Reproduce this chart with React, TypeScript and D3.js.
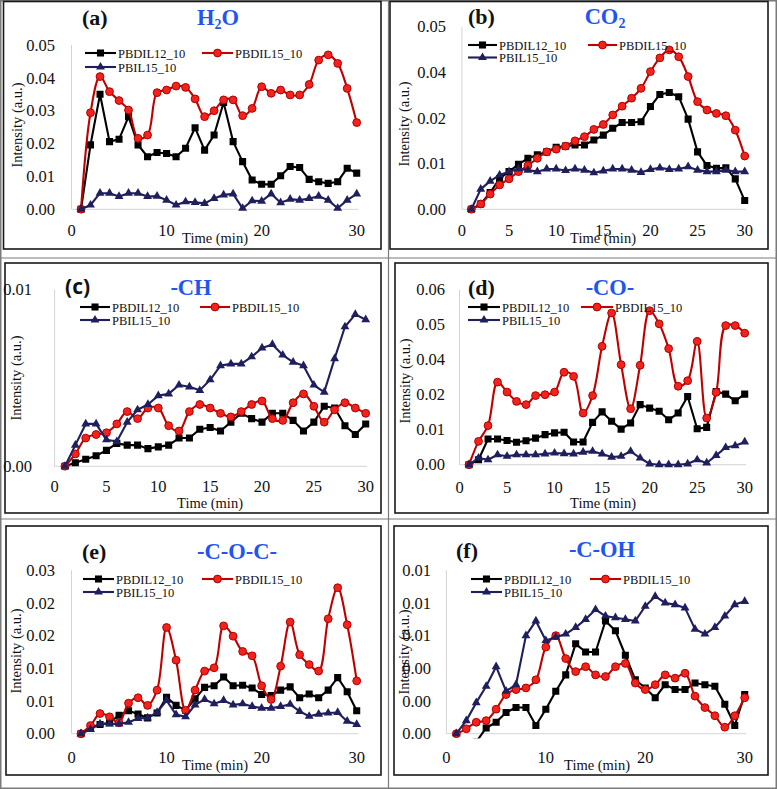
import React from 'react';
import * as d3 from 'd3';

// Time axis, one reading per minute
const minutes = [1, 2, 3, 4, 5, 6, 7, 8, 9, 10, 11, 12, 13, 14, 15, 16, 17, 18, 19, 20, 21, 22, 23, 24, 25, 26, 27, 28, 29, 30];
const seriesNames = ['PBDIL12_10', 'PBDIL15_10', 'PBIL15_10'];

// (a) H2O
const h2oPBDIL12 = [0, 0.0196, 0.035, 0.0206, 0.0213, 0.0282, 0.0196, 0.016, 0.0173, 0.017, 0.016, 0.0186, 0.0248, 0.018, 0.0226, 0.0325, 0.0206, 0.0145, 0.0089, 0.0076, 0.0076, 0.0102, 0.013, 0.0127, 0.0091, 0.0084, 0.0079, 0.0084, 0.0125, 0.011];
const h2oPBDIL15 = [0, 0.0294, 0.0404, 0.0358, 0.0331, 0.0302, 0.0216, 0.0226, 0.0355, 0.0363, 0.0375, 0.0371, 0.0336, 0.0282, 0.03, 0.0333, 0.0333, 0.0285, 0.0307, 0.0373, 0.0353, 0.0363, 0.0348, 0.0348, 0.038, 0.0454, 0.047, 0.0444, 0.0368, 0.0264];
const h2oPBIL15 = [0, 0.0013, 0.0049, 0.0049, 0.0039, 0.0049, 0.0049, 0.0039, 0.004, 0.0028, 0.0013, 0.0023, 0.0021, 0.0018, 0.0033, 0.0044, 0.0047, 0.0003, 0.0026, 0.0025, 0.0047, 0.002, 0.0031, 0.0028, 0.0033, 0.004, 0.0028, 0.0003, 0.0028, 0.0047];

// (b) CO2
const co2PBDIL12 = [0, 0.0014, 0.0044, 0.0081, 0.0099, 0.0118, 0.0134, 0.0143, 0.0151, 0.0163, 0.0166, 0.0169, 0.0169, 0.0182, 0.0195, 0.0213, 0.0228, 0.0228, 0.023, 0.027, 0.0302, 0.0307, 0.0296, 0.0237, 0.0151, 0.0115, 0.0108, 0.0109, 0.008, 0.0023];
const co2PBDIL15 = [0, 0.0014, 0.004, 0.0064, 0.008, 0.0099, 0.0115, 0.0134, 0.0151, 0.0158, 0.0166, 0.018, 0.0191, 0.021, 0.0223, 0.0248, 0.0271, 0.0292, 0.0318, 0.0362, 0.0398, 0.0419, 0.0401, 0.0349, 0.0283, 0.0261, 0.0252, 0.0246, 0.0208, 0.014];
const co2PBIL15 = [0, 0.0053, 0.0074, 0.009, 0.0099, 0.0106, 0.0103, 0.0099, 0.0106, 0.0106, 0.0102, 0.0106, 0.0103, 0.0096, 0.0101, 0.0106, 0.0106, 0.0103, 0.0097, 0.0105, 0.0109, 0.0105, 0.0106, 0.0112, 0.0103, 0.0099, 0.0099, 0.0103, 0.0099, 0.0099];

// (c) -CH
const chPBDIL12 = [0, 0.0002, 0.0004, 0.0006, 0.0009, 0.0013, 0.0012, 0.0012, 0.001, 0.0011, 0.0012, 0.0016, 0.0016, 0.0021, 0.0022, 0.002, 0.0025, 0.003, 0.0027, 0.0025, 0.003, 0.003, 0.0026, 0.002, 0.0025, 0.0034, 0.0033, 0.0023, 0.0018, 0.0024];
const chPBDIL15 = [0, 0.0007, 0.0016, 0.0018, 0.0019, 0.0024, 0.0031, 0.0027, 0.0033, 0.0033, 0.0023, 0.002, 0.0031, 0.0035, 0.0033, 0.003, 0.0028, 0.0031, 0.0035, 0.0037, 0.0027, 0.0026, 0.0036, 0.0041, 0.0034, 0.0025, 0.0032, 0.0036, 0.0033, 0.003];
const chPBIL15 = [0, 0.0012, 0.0024, 0.0024, 0.0015, 0.0014, 0.0025, 0.0032, 0.0035, 0.004, 0.0041, 0.0046, 0.0045, 0.0043, 0.0049, 0.0057, 0.0058, 0.0058, 0.0062, 0.0067, 0.0069, 0.0063, 0.0059, 0.0057, 0.0046, 0.0042, 0.0061, 0.0079, 0.0086, 0.0083];

// (d) -CO-
const coPBDIL12 = [0, 0.0017, 0.0088, 0.0088, 0.0083, 0.0077, 0.0082, 0.0091, 0.0103, 0.0109, 0.0111, 0.0078, 0.0078, 0.0145, 0.0181, 0.0149, 0.0122, 0.0143, 0.0206, 0.0194, 0.0183, 0.0154, 0.0177, 0.0234, 0.0123, 0.0128, 0.0251, 0.0242, 0.0219, 0.0242];
const coPBDIL15 = [0, 0.008, 0.0134, 0.0283, 0.0249, 0.0217, 0.0206, 0.0237, 0.024, 0.0249, 0.0317, 0.0303, 0.0177, 0.0237, 0.0406, 0.052, 0.0343, 0.0192, 0.0341, 0.0528, 0.0483, 0.0398, 0.0269, 0.0288, 0.0423, 0.016, 0.0248, 0.0477, 0.0477, 0.0451];
const coPBIL15 = [0, 0.0023, 0.0017, 0.0034, 0.0029, 0.0034, 0.0034, 0.0034, 0.0037, 0.004, 0.0038, 0.0037, 0.0043, 0.0046, 0.0037, 0.0026, 0.0029, 0.0046, 0.0023, 0.0003, 0, 0, 0, 0.0003, 0.0017, 0.0006, 0.0032, 0.0059, 0.0065, 0.0078];

// (e) -C-O-C-
const cocPBDIL12 = [0, 0.0012, 0.0017, 0.002, 0.0034, 0.0042, 0.0036, 0.0029, 0.0038, 0.0067, 0.0052, 0.0043, 0.0064, 0.0085, 0.0088, 0.0104, 0.0088, 0.0089, 0.0084, 0.0072, 0.007, 0.008, 0.0086, 0.0066, 0.0073, 0.0066, 0.008, 0.0103, 0.0077, 0.0042];
const cocPBDIL15 = [0, 0.0015, 0.0037, 0.0031, 0.002, 0.0056, 0.0066, 0.0052, 0.008, 0.0195, 0.0135, 0.0043, 0.008, 0.0115, 0.0121, 0.0198, 0.0179, 0.0151, 0.0143, 0.0088, 0.0063, 0.0124, 0.0205, 0.0145, 0.0127, 0.0115, 0.0211, 0.0268, 0.02, 0.0097];
const cocPBIL15 = [0, 0.0008, 0.0018, 0.0018, 0.0018, 0.0021, 0.0028, 0.0029, 0.0039, 0.0061, 0.0035, 0.0031, 0.0053, 0.0063, 0.0055, 0.0061, 0.0053, 0.0055, 0.005, 0.0047, 0.0047, 0.005, 0.0054, 0.0041, 0.0032, 0.0036, 0.0038, 0.0039, 0.0023, 0.0017];

// (f) -C-OH
const cohPBDIL12 = [-0.001, -0.0008, -0.0005, 0.00035, 0.0007, 0.0013, 0.0016, 0.0016, 0.0005, 0.0015, 0.0026, 0.0036, 0.0055, 0.005, 0.005, 0.0069, 0.0063, 0.0048, 0.0033, 0.0028, 0.0022, 0.003, 0.0027, 0.0027, 0.0031, 0.003, 0.0029, 0.0018, 0.0005, 0.0024];
const cohPBDIL15 = [0, 0.0003, 0.0007, 0.0008, 0.0015, 0.0024, 0.0027, 0.0028, 0.0033, 0.0053, 0.006, 0.0046, 0.0038, 0.0041, 0.0036, 0.0035, 0.0041, 0.0043, 0.0031, 0.0027, 0.003, 0.0036, 0.0034, 0.0037, 0.0023, 0.0016, 0.0011, 0.0004, 0.0011, 0.0022];
const cohPBIL15 = [0, 0.0008, 0.0019, 0.0029, 0.0041, 0.0026, 0.003, 0.006, 0.0069, 0.0057, 0.0059, 0.0061, 0.0065, 0.007, 0.0076, 0.0072, 0.0071, 0.007, 0.0069, 0.0078, 0.0084, 0.008, 0.0079, 0.0077, 0.0064, 0.0061, 0.0065, 0.0072, 0.0079, 0.0081];

// value-axis ticks (labels are these values at two decimals)
const ticksA = [0, 0.01, 0.02, 0.03, 0.04, 0.05];
const ticksB = [0, 0.012, 0.024, 0.036, 0.048];
const ticksC = [0, 0.01];
const ticksD = [0, 0.012, 0.024, 0.036, 0.048, 0.06];
const ticksE = [0, 0.006, 0.012, 0.018, 0.024, 0.03];
const ticksF = [0, 0.002, 0.004, 0.006, 0.008, 0.01];
const timeTicks10 = [0, 10, 20, 30];
const timeTicks5 = [0, 5, 10, 15, 20, 25, 30];

const W = 777;
const H = 789;
const serif = '"Liberation Serif", "Times New Roman", serif';
const titleBlue = '#1f55f2';
const fmt = d3.format('.2f');

type Chem = { text: string; sub?: string; rest?: string };

interface PanelCfg {
  id: string;
  chem: Chem;
  sansLetter?: boolean;
  series: number[][];
  yTicks: number[];
  xTicks: number[];
  left: number; right: number; bottom: number; top: number;
  box: [number, number, number, number];
  letterX: number; letterY: number;
  chemX: number; chemY: number;
  yLabelX: number; xLabelDy: number;
  timeX: number; timeY: number;
  intX: number; intY: number;
  leg: { x1: number; x2: number; y1: number; y2: number; len: number };
}

const panels: PanelCfg[] = [
  {
    id: 'a', chem: { text: 'H', sub: '2', rest: 'O' },
    series: [h2oPBDIL12, h2oPBDIL15, h2oPBIL15], yTicks: ticksA, xTicks: timeTicks10,
    left: 71.5, right: 356.7, bottom: 209.3, top: 45, box: [3.5, 1.5, 381, 249],
    letterX: 82, letterY: 25, chemX: 218, chemY: 25, yLabelX: 55, xLabelDy: 27,
    timeX: 215, timeY: 243, intX: 17, intY: 125,
    leg: { x1: 85, x2: 202, y1: 53, y2: 67, len: 31 },
  },
  {
    id: 'b', chem: { text: 'CO', sub: '2' },
    series: [co2PBDIL12, co2PBDIL15, co2PBIL15], yTicks: ticksB, xTicks: timeTicks5,
    left: 461.9, right: 744.7, bottom: 209.3, top: 26.7, box: [390, 1.5, 768, 249],
    letterX: 468, letterY: 24, chemX: 605, chemY: 24, yLabelX: 446, xLabelDy: 27,
    timeX: 603, timeY: 243, intX: 404, intY: 124,
    leg: { x1: 468, x2: 588, y1: 45, y2: 57.5, len: 29 },
  },
  {
    id: 'c', chem: { text: '-CH' }, sansLetter: true,
    series: [chPBDIL12, chPBDIL15, chPBIL15], yTicks: ticksC, xTicks: timeTicks5,
    left: 54.6, right: 365.7, bottom: 466.3, top: 289.7, box: [5, 263, 381, 513],
    letterX: 65, letterY: 294, chemX: 191, chemY: 295, yLabelX: 32, xLabelDy: 26,
    timeX: 210, timeY: 508, intX: 16, intY: 378,
    leg: { x1: 80, x2: 200, y1: 307, y2: 320, len: 30 },
  },
  {
    id: 'd', chem: { text: '-CO-' },
    series: [coPBDIL12, coPBDIL15, coPBIL15], yTicks: ticksD, xTicks: timeTicks5,
    left: 459.5, right: 744.7, bottom: 464.7, top: 289.7, box: [395, 263, 768, 513],
    letterX: 468, letterY: 295, chemX: 610, chemY: 295, yLabelX: 445, xLabelDy: 28,
    timeX: 603, timeY: 508, intX: 405, intY: 381,
    leg: { x1: 468, x2: 581, y1: 307, y2: 320, len: 32 },
  },
  {
    id: 'e', chem: { text: '-C-O-C-' },
    series: [cocPBDIL12, cocPBDIL15, cocPBIL15], yTicks: ticksE, xTicks: timeTicks10,
    left: 71.5, right: 356.7, bottom: 733.7, top: 570.3, box: [6, 526, 381, 775],
    letterX: 82, letterY: 559, chemX: 237, chemY: 559, yLabelX: 55, xLabelDy: 29,
    timeX: 215, timeY: 770, intX: 16, intY: 651,
    leg: { x1: 83, x2: 202, y1: 579, y2: 592, len: 31 },
  },
  {
    id: 'f', chem: { text: '-C-OH' },
    series: [cohPBDIL12, cohPBDIL15, cohPBIL15], yTicks: ticksF, xTicks: timeTicks10,
    left: 446.4, right: 744.7, bottom: 733.7, top: 570.3, box: [394, 526, 768, 775],
    letterX: 456, letterY: 558, chemX: 602, chemY: 557, yLabelX: 431, xLabelDy: 29,
    timeX: 597, timeY: 770, intX: 404, intY: 652,
    leg: { x1: 471, x2: 590, y1: 579, y2: 592, len: 31 },
  },
];

// black squares, red circles (smoothed line), navy triangles
const styles = [
  { stroke: '#000000', fill: '#000000', edge: '#000000', marker: 'square', smooth: false },
  { stroke: '#c00000', fill: '#f2231c', edge: '#b00000', marker: 'circle', smooth: true },
  { stroke: '#1e1f5c', fill: '#1e1f5c', edge: '#1e1f5c', marker: 'triangle', smooth: false },
];

const squarePath = d3.symbol().type(d3.symbolSquare).size(50)() as string;
const trianglePath = d3.symbol().type(d3.symbolTriangle).size(34)() as string;

function Marker({ kind, cx, cy, s }: { kind: string; cx: number; cy: number; s: typeof styles[number] }) {
  if (kind === 'circle') {
    return <circle cx={cx} cy={cy} r={3.9} fill={s.fill} stroke={s.edge} strokeWidth={1} />;
  }
  const d = kind === 'square' ? squarePath : trianglePath;
  return <path d={d} transform={`translate(${cx},${cy})`} fill={s.fill} />;
}

function ChartPanel({ p }: { p: PanelCfg }) {
  const x = d3.scaleLinear().domain([0, 30]).range([p.left, p.right]);
  const yMax = p.yTicks[p.yTicks.length - 1];
  const y = d3.scaleLinear().domain([0, yMax]).range([p.bottom, p.top]);
  const straight = d3.line<number>().x((_, i) => x(minutes[i])).y(d => y(d));
  const smooth = d3.line<number>().x((_, i) => x(minutes[i])).y(d => y(d)).curve(d3.curveCatmullRom.alpha(0.5));
  const clipId = `clip-${p.id}`;
  const [bx0, by0, bx1, by1] = p.box;

  return (
    <g>
      <rect x={bx0} y={by0} width={bx1 - bx0} height={by1 - by0} fill="none" stroke="#1a1a1a" strokeWidth={1.6} />
      <defs>
        <clipPath id={clipId}>
          <rect x={p.left - 8} y={p.top - 12} width={p.right - p.left + 16} height={p.bottom - p.top + 16.5} />
        </clipPath>
      </defs>

      {/* axes */}
      <line x1={p.left} x2={p.left} y1={p.top} y2={p.bottom} stroke="#d4d4d4" strokeWidth={1} />
      <line x1={p.left} x2={p.right + 1.5} y1={p.bottom} y2={p.bottom} stroke="#d4d4d4" strokeWidth={1} />

      {p.yTicks.map(t => (
        <text key={`y${t}`} x={p.yLabelX} y={y(t)} dy="0.35em" textAnchor="end"
          fontFamily={serif} fontSize={16.5} fill="#111">{fmt(t)}</text>
      ))}
      {p.xTicks.map(t => (
        <text key={`x${t}`} x={x(t)} y={p.bottom + p.xLabelDy} textAnchor="middle"
          fontFamily={serif} fontSize={16.5} fill="#111">{t}</text>
      ))}

      <text x={p.timeX} y={p.timeY} textAnchor="middle" fontFamily={serif} fontSize={14.5} fill="#111">Time (min)</text>
      <text transform={`translate(${p.intX},${p.intY}) rotate(-90)`} textAnchor="middle" dy="0.35em"
        fontFamily={serif} fontSize={14.5} fill="#111">Intensity (a.u.)</text>

      {/* series */}
      <g clipPath={`url(#${clipId})`}>
        {p.series.map((vals, si) => {
          const s = styles[si];
          return (
            <g key={si}>
              <path d={(s.smooth ? smooth : straight)(vals) as string} fill="none" stroke={s.stroke}
                strokeWidth={2.1} strokeLinejoin="round" />
              {vals.map((v, i) => (
                <Marker key={i} kind={s.marker} cx={x(minutes[i])} cy={y(v)} s={s} />
              ))}
            </g>
          );
        })}
      </g>

      {/* legend */}
      {[0, 1, 2].map(si => {
        const s = styles[si];
        const lx = si === 1 ? p.leg.x2 : p.leg.x1;
        const ly = si === 2 ? p.leg.y2 : p.leg.y1;
        return (
          <g key={`leg${si}`}>
            <line x1={lx} x2={lx + p.leg.len} y1={ly} y2={ly} stroke={s.stroke} strokeWidth={2.1} />
            <Marker kind={s.marker} cx={lx + p.leg.len / 2} cy={ly} s={s} />
            <text x={lx + p.leg.len + 2} y={ly} dy="0.36em" fontFamily={serif} fontSize={12.5} fill="#111">
              {seriesNames[si]}
            </text>
          </g>
        );
      })}

      {/* panel letter and species */}
      <text x={p.letterX} y={p.letterY} fontWeight="bold" fill="#111"
        fontFamily={p.sansLetter ? '"Open Sans", "Liberation Sans", sans-serif' : serif}
        fontSize={p.sansLetter ? 21 : 22}>({p.id})</text>
      <text x={p.chemX} y={p.chemY} textAnchor="middle" fontFamily={serif} fontWeight="bold" fontSize={22.5} fill={titleBlue}>
        <tspan>{p.chem.text}</tspan>
        {p.chem.sub && <tspan fontSize={14} dy={4}>{p.chem.sub}</tspan>}
        {p.chem.rest && <tspan dy={-4}>{p.chem.rest}</tspan>}
      </text>
    </g>
  );
}

const App: React.FC = () => {
  return (
    <svg width={W} height={H} viewBox={`0 0 ${W} ${H}`}
      style={{ position: 'absolute', left: 0, top: 0, background: '#ffffff' }}>
      {/* table frame */}
      <rect x={0.75} y={0.75} width={W - 1.5} height={H - 1.5} fill="none" stroke="#7a7a7a" strokeWidth={1.5} />
      <line x1={388.5} x2={388.5} y1={0} y2={H} stroke="#7a7a7a" strokeWidth={1.2} />
      <line x1={0} x2={W} y1={258} y2={258} stroke="#7a7a7a" strokeWidth={1.2} />
      <line x1={0} x2={W} y1={519} y2={519} stroke="#7a7a7a" strokeWidth={1.2} />
      {panels.map(p => <ChartPanel key={p.id} p={p} />)}
    </svg>
  );
};

export default App;
